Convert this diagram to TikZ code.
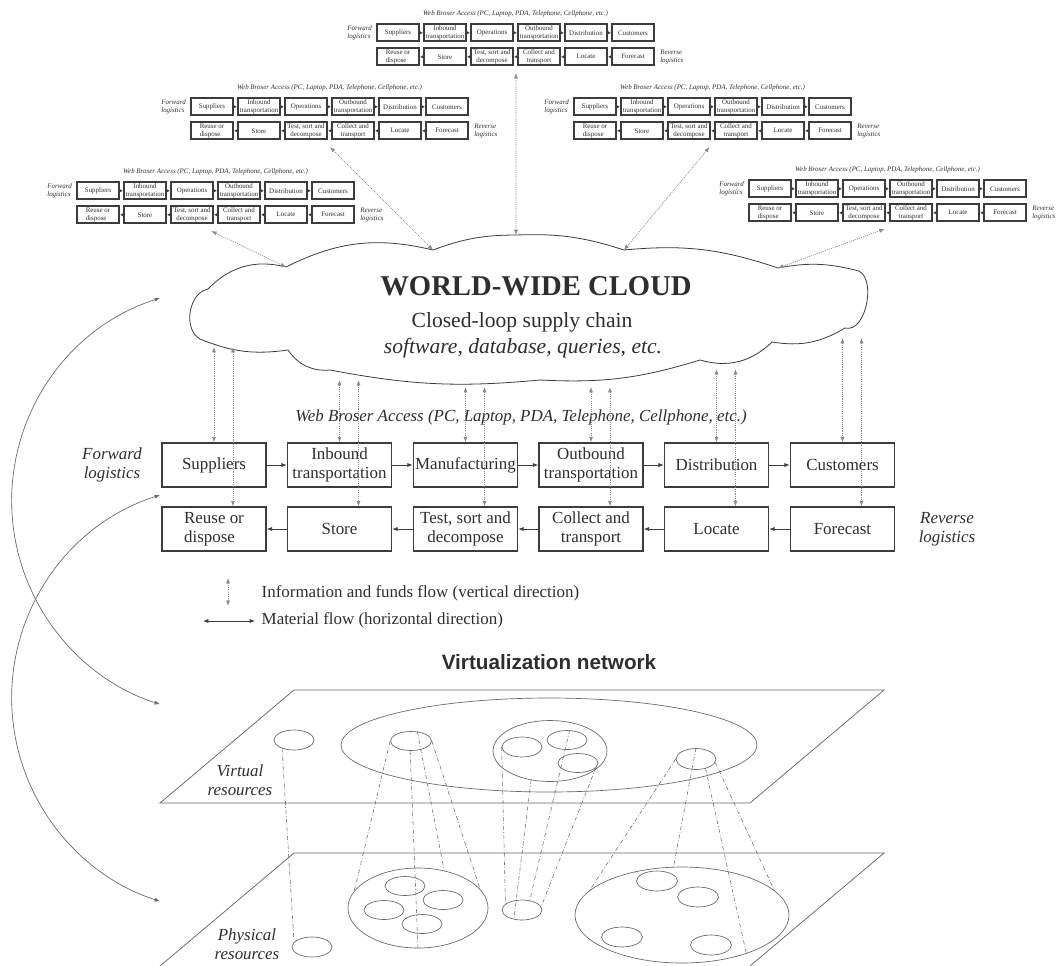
\documentclass[tikz,border=0pt]{standalone}
\usepackage{fontspec}
\setmainfont{Liberation Serif}
\newfontfamily\sansbf{Liberation Sans}
\usetikzlibrary{arrows.meta,shapes.geometric}
\definecolor{txt}{HTML}{2E2E2E}
\definecolor{ln}{HTML}{3C3C3C}
\definecolor{dotc}{HTML}{8A8A8A}
\definecolor{thin}{HTML}{666666}
\tikzset{
 mbox/.style={draw=ln, line width=1.1pt, minimum width=78pt, minimum height=33pt, inner sep=0pt, align=center, text=txt, font=\fontsize{12.7}{14}\selectfont},
 sbox/.style={draw=ln, line width=1.4pt, minimum width=31.5pt, minimum height=13pt, inner sep=0pt, align=center, text=txt, font=\fontsize{5.2}{5.6}\selectfont},
 flow/.style={draw=ln, line width=0.5pt, -{Latex[length=4pt,width=3pt]}},
 sflow/.style={draw=ln, line width=0.8pt, -{Latex[length=2.6pt,width=2.6pt]}},
 info/.style={draw=dotc, line width=0.5pt, dash pattern=on 0.8pt off 0.8pt, {Latex[length=4pt,width=3pt]}-{Latex[length=4pt,width=3pt]}},
 lbl/.style={text=txt, font=\fontsize{12.7}{14}\selectfont\itshape, align=center},
 slbl/.style={text=txt, font=\fontsize{5.2}{5.6}\selectfont\itshape, align=left, inner sep=0pt},
 res/.style={draw=thin, line width=0.5pt, ellipse, inner sep=0pt},
 proj/.style={draw=thin, line width=0.4pt, dash pattern=on 3pt off 1.5pt on 0.6pt off 1.5pt},
 plane/.style={draw=thin, line width=0.55pt},
 loopar/.style={draw=thin, line width=0.5pt, {Latex[length=4pt,width=3pt]}-{Latex[length=4pt,width=3pt]}},
}
\newcommand{\smallchain}[4]{%
\begin{scope}[shift={(#2,-#3)}]
 \node[slbl, align=center] (#1ti) at (138.5,10) {Web Broser Access (PC, Laptop, PDA, Telephone, Cellphone, etc.)};
 \node[sbox] (#1f1) at (21,-8.75) {Suppliers};
 \node[sbox] (#1f2) at (68,-8.75) {Inbound\\transportation};
 \node[sbox] (#1f3) at (115,-8.75) {Operations};
 \node[sbox] (#1f4) at (162,-8.75) {Outbound\\transportation};
 \node[sbox] (#1f5) at (209,-8.75) {Distribution};
 \node[sbox] (#1f6) at (256,-8.75) {Customers};
 \node[sbox,align=left] (#1r1) at (21,-32.75) {Reuse or\\dispose};
 \node[sbox] (#1r2) at (68,-32.75) {Store};
 \node[sbox] (#1r3) at (115,-32.75) {Test, sort and\\decompose};
 \node[sbox] (#1r4) at (162,-32.75) {Collect and\\transport};
 \node[sbox] (#1r5) at (209,-32.75) {Locate};
 \node[sbox] (#1r6) at (256,-32.75) {Forecast};
 \foreach \a/\b in {1/2,2/3,3/4,4/5,5/6}{\draw[sflow] (#1f\a) -- (#1f\b); \draw[sflow] (#1r\b) -- (#1r\a);}
 \ifnum#4=1 \node[slbl,anchor=east] (#1fl) at (-5,-8.75) {Forward\\logistics};\fi
 \node[slbl,anchor=west] (#1rl) at (283,-32.75) {Reverse\\logistics};
\end{scope}}
\begin{document}
\begin{tikzpicture}[x=0.75pt,y=0.75pt]
\fill[white] (0,0) rectangle (1057,-965);
\useasboundingbox (0,0) rectangle (1057,-965);

% small copies
\smallchain{ta}{377}{24}{1}
\smallchain{tb}{191}{98}{1}
\smallchain{tc}{77}{182}{1}
\smallchain{td}{574}{98}{1}
\smallchain{te}{749}{180}{1}

% cloud
\coordinate (cl) at (286,-267);
\coordinate (cm1) at (433,-250);
\coordinate (ct) at (516,-235);
\coordinate (cm2) at (624,-250);
\coordinate (cr) at (778,-268);
\draw[ln, line width=0.6pt]
 (cl) to[bend left=20] (cm1) to[bend left=10] (ct) to[bend left=10] (cm2)
 to[bend left=12] (cr) to[bend left=12] (855,-270) to[bend left=95] (845,-328)
 to[bend left=20] (772,-342) to[bend left=30] (700,-360) to[bend left=10] (540,-380)
 to[bend left=8] (330,-370) to[bend left=30] (288,-350) to[bend left=15] (200,-339)
 to[bend left=70] (208,-289) to[bend left=30] (cl);
\node[text=txt, font=\fontsize{21.5}{24}\selectfont\bfseries] (ctitle) at (536,-286) {WORLD-WIDE CLOUD};
\node[text=txt, font=\fontsize{16.2}{18}\selectfont] (csub) at (522,-322) {Closed-loop supply chain};
\node[text=txt, font=\fontsize{16.2}{18}\selectfont\itshape] (csw) at (523,-348) {software, database, queries, etc.};

% links from the small copies to the cloud
\draw[info] ([xshift=1.5pt,yshift=-5pt]tar3.south east) -- (ct);
\draw[info] ([xshift=1.5pt,yshift=-5pt]tbr3.south east) -- (cm1);
\draw[info] ([xshift=-2pt,yshift=-5pt]tcr3.south east) -- (cl);
\draw[info] ([xshift=-1pt,yshift=-5pt]tdr3.south east) -- (cm2);
\draw[info] ([xshift=-1pt,yshift=-5pt]ter3.south east) -- (cr);

% web access label
\node[lbl] (web) at (521,-417) {Web Broser Access (PC, Laptop, PDA, Telephone, Cellphone, etc.)};

% main chain
\node[mbox] (m1) at (214,-465) {Suppliers};
\node[mbox] (m2) at (339.5,-465) {Inbound\\transportation};
\node[mbox] (m3) at (465.5,-465) {Manufacturing};
\node[mbox] (m4) at (591,-465) {Outbound\\transportation};
\node[mbox] (m5) at (716.5,-465) {Distribution};
\node[mbox] (m6) at (842.5,-465) {Customers};
\node[mbox,align=left] (r1) at (214,-529) {Reuse or\\dispose};
\node[mbox] (r2) at (339.5,-529) {Store};
\node[mbox] (r3) at (465.5,-529) {Test, sort and\\decompose};
\node[mbox] (r4) at (591,-529) {Collect and\\transport};
\node[mbox] (r5) at (716.5,-529) {Locate};
\node[mbox] (r6) at (842.5,-529) {Forecast};
\foreach \a/\b in {1/2,2/3,3/4,4/5,5/6}{\draw[flow] (m\a) -- (m\b); \draw[flow] (r\b) -- (r\a);}
\node[lbl] (fwd) at (112,-465) {Forward\\logistics};
\node[lbl] (rev) at (947,-529) {Reverse\\logistics};

% vertical information arrows
\foreach \i/\x/\y in {1/214/347,2/339.5/380,3/465.5/387,4/591/387,5/716.5/369,6/842.5/338}{
 \coordinate (ca\i) at (\x,-\y);
 \coordinate (cb\i) at (\x+19,-\y);
 \draw[info] (ca\i) -- (m\i.north);
 \draw[info] (cb\i) -- (r\i.north -| cb\i);
}

% legend
\coordinate (lga) at (228,-578);
\coordinate (lgb) at (228,-606);
\coordinate (lgc) at (203,-621);
\coordinate (lgd) at (255,-621);
\draw[info] (lga) -- (lgb);
\draw[draw=ln, line width=0.5pt, {Latex[length=4pt,width=3pt]}-{Latex[length=4pt,width=3pt]}] (lgc) -- (lgd);
\node[text=txt, font=\fontsize{12.7}{14}\selectfont, anchor=west] (lg1) at (257,-593) {Information and funds flow (vertical direction)};
\node[text=txt, font=\fontsize{12.7}{14}\selectfont, anchor=west] (lg2) at (257,-620) {Material flow (horizontal direction)};

% virtualization network
\node[text=txt, font=\sansbf\fontsize{15.5}{18}\selectfont\bfseries] (vn) at (549,-662) {Virtualization network};

% planes
\draw[plane] (294,-690) -- (884,-690) -- (750,-803) -- (160,-803) -- cycle;
\draw[plane] (160,-966) -- (294,-853) -- (884,-853) -- (750,-966);
\node[lbl] (vr) at (240,-780) {Virtual\\resources};
\node[lbl] (pr) at (247,-944) {Physical\\resources};

% virtual resources
\node[res, minimum width=30pt, minimum height=15pt] (v1) at (294,-740) {};
\node[res, minimum width=312pt, minimum height=70.5pt] (vbig) at (549,-745) {};
\node[res, minimum width=30.75pt, minimum height=14.25pt] (v2) at (411,-741) {};
\node[res, minimum width=85.5pt, minimum height=45.75pt] (vmed) at (550,-751) {};
\node[res, minimum width=30pt, minimum height=15pt] (v3a) at (522,-747) {};
\node[res, minimum width=30pt, minimum height=14.25pt] (v3b) at (567,-740) {};
\node[res, minimum width=30pt, minimum height=14.25pt] (v3c) at (578,-763) {};
\node[res, minimum width=30pt, minimum height=15.75pt] (v4) at (696,-759) {};

% physical resources
\node[res, minimum width=30pt, minimum height=15pt] (p1) at (312,-947) {};
\node[res, minimum width=105pt, minimum height=60pt] (pbig) at (418,-908) {};
\node[res, minimum width=30pt, minimum height=14.25pt] (p2a) at (405,-886) {};
\node[res, minimum width=30pt, minimum height=14.25pt] (p2b) at (443,-900) {};
\node[res, minimum width=30pt, minimum height=14.25pt] (p2c) at (384,-910) {};
\node[res, minimum width=30pt, minimum height=14.25pt] (p2d) at (422,-924) {};
\node[res, minimum width=30pt, minimum height=15pt] (p3) at (522,-910) {};
\node[res, minimum width=160.5pt, minimum height=72pt] (pbig2) at (682,-915) {};
\node[res, minimum width=30.75pt, minimum height=15pt] (p4a) at (657,-881) {};
\node[res, minimum width=30.75pt, minimum height=15pt] (p4b) at (698,-897) {};
\node[res, minimum width=30.75pt, minimum height=15pt] (p4c) at (622,-937) {};
\node[res, minimum width=30.75pt, minimum height=15pt] (p4d) at (711,-945) {};

% projections
\draw[proj] (v1.215) -- (p1.165);
\draw[proj] (v2.180) -- (pbig.165);
\draw[proj] (v2.265) -- (pbig.270);
\draw[proj] (v2.56) -- (pbig.55);
\draw[proj] (v2.0) -- (pbig.17);
\draw[proj] (v3a.180) -- (p3.160);
\draw[proj] (vmed.237) -- (p3.229);
\draw[proj] (v3b.75) -- (p3.51);
\draw[proj] (v3c.345) -- (p3.10);
\draw[proj] (v4.180) -- (pbig2.165);
\draw[proj] (v4.90) -- (pbig2.100);
\draw[proj] (v4.315) -- (pbig2.329);
\draw[proj] (v4.350) -- (pbig2.15);

% left loops
\coordinate (la) at (160,-298);
\coordinate (lb) at (160,-495);
\draw[loopar] (la) arc[start angle=107.75, end angle=252.25, radius=213.3];
\draw[loopar] (lb) arc[start angle=107.75, end angle=252.25, radius=213.3];
\end{tikzpicture}
\end{document}
